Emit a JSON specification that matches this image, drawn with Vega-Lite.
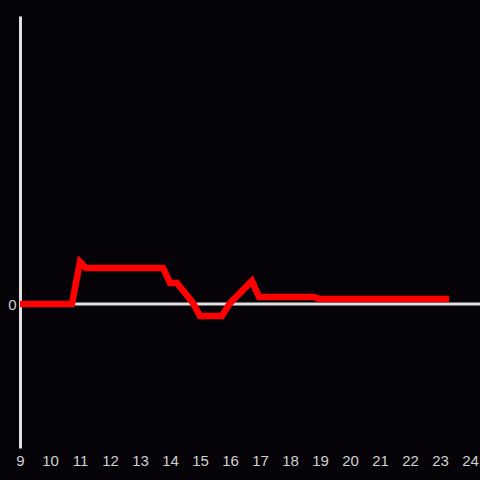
{
  "$schema": "https://vega.github.io/schema/vega-lite/v6.json",
  "width": 460,
  "height": 432,
  "autosize": "none",
  "padding": {"left": 20, "top": 16, "right": 0, "bottom": 32},
  "background": "#050308",
  "config": {"view": {"stroke": null}, "font": "Liberation Sans"},
  "data": {"values": [
    {"t": 9, "v": 0},
    {"t": 10.73, "v": 0},
    {"t": 11.0, "v": 0.146},
    {"t": 11.2, "v": 0.125},
    {"t": 13.77, "v": 0.125},
    {"t": 14.0, "v": 0.073},
    {"t": 14.23, "v": 0.073},
    {"t": 14.77, "v": 0.003},
    {"t": 15.0, "v": -0.042},
    {"t": 15.73, "v": -0.042},
    {"t": 16.0, "v": 0.003},
    {"t": 16.73, "v": 0.08},
    {"t": 16.97, "v": 0.024},
    {"t": 18.8, "v": 0.024},
    {"t": 19.0, "v": 0.017},
    {"t": 23.3, "v": 0.017}
  ]},
  "layer": [
    {
      "data": {"values": [{"z": 0}]},
      "mark": {"type": "rule", "color": "#e0e0e0", "strokeWidth": 3},
      "encoding": {"y": {"field": "z", "type": "quantitative", "scale": {"domain": [-0.5, 1]}}}
    },
    {
      "mark": {"type": "line", "color": "#ff0000", "strokeWidth": 6.5, "strokeJoin": "miter"},
      "encoding": {
        "x": {"field": "t", "type": "quantitative", "scale": {"domain": [9, 24.3333], "nice": false, "zero": false},
          "axis": {"values": [9,10,11,12,13,14,15,16,17,18,19,20,21,22,23,24], "domain": false, "ticks": false, "grid": false, "title": null, "labelColor": "#d0d0d0", "labelFontSize": 15, "labelPadding": 5, "labelFlush": false}},
        "y": {"field": "v", "type": "quantitative", "scale": {"domain": [-0.5, 1], "nice": false, "zero": false},
          "axis": {"values": [0], "format": "d", "domain": true, "domainColor": "#e0e0e0", "domainWidth": 3, "ticks": false, "grid": false, "title": null, "labelColor": "#d0d0d0", "labelFontSize": 15, "labelPadding": 4}}
      }
    }
  ]
}
